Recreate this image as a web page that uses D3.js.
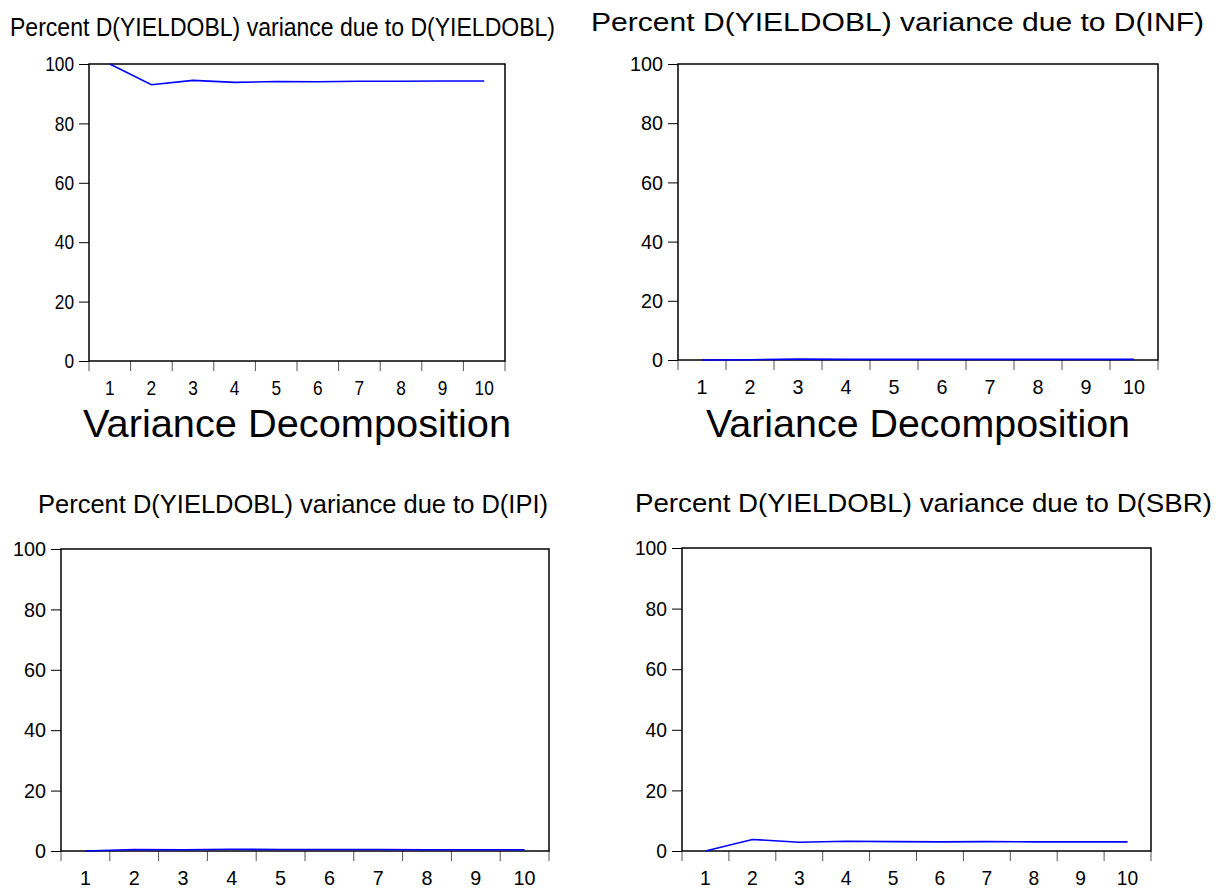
<!DOCTYPE html>
<html>
<head>
<meta charset="utf-8">
<script src="https://cdn.jsdelivr.net/npm/d3@7"></script>
<style>
  html, body { margin: 0; padding: 0; background: #fff; }
  svg { display: block; font-family: "Liberation Sans", Arial, sans-serif; }
</style>
</head>
<body>
<svg id="chart" width="1218" height="889"></svg>
<script>
// ---- data ----
const periods = [1, 2, 3, 4, 5, 6, 7, 8, 9, 10];
const yTicks = [0, 20, 40, 60, 80, 100];
const titles = [
  "Percent D(YIELDOBL) variance due to D(YIELDOBL)",
  "Percent D(YIELDOBL) variance due to D(INF)",
  "Percent D(YIELDOBL) variance due to D(IPI)",
  "Percent D(YIELDOBL) variance due to D(SBR)"
];
const footer = "Variance Decomposition";
const dueToYIELDOBL = [100, 93.0, 94.5, 93.8, 94.1, 94.0, 94.2, 94.2, 94.3, 94.3];
const dueToINF      = [0, 0.1, 0.3, 0.2, 0.2, 0.2, 0.2, 0.2, 0.2, 0.2];
const dueToIPI      = [0, 0.5, 0.4, 0.6, 0.5, 0.5, 0.5, 0.4, 0.4, 0.4];
const dueToSBR      = [0, 3.8, 2.9, 3.2, 3.1, 3.0, 3.1, 3.0, 3.0, 3.0];
const seriesList = [dueToYIELDOBL, dueToINF, dueToIPI, dueToSBR];

// ---- layout (per panel) ----
const panels = [
  { x0: 89,  x1: 505,  y0: 64,  y1: 361, tx: 10,  ty: 36,  tw: 545, dw: 9.6,  fx: true,  fw: 428 },
  { x0: 678, x1: 1158, y0: 64,  y1: 360, tx: 591, ty: 31,  tw: 613, dw: 11,   fx: true,  fw: 424 },
  { x0: 61,  x1: 549,  y0: 549, y1: 851, tx: 38,  ty: 513, tw: 510, dw: 11,   fx: false },
  { x0: 682, x1: 1151, y0: 548, y1: 851, tx: 635, ty: 512, tw: 577, dw: 10.7, fx: false }
];

const svg = d3.select("#chart");

panels.forEach((p, i) => {
  const g = svg.append("g");
  const x = d3.scaleBand().domain(periods).range([p.x0, p.x1]).padding(0);
  const y = d3.scaleLinear().domain([0, 100]).range([p.y1, p.y0]);

  // title
  g.append("text")
    .attr("x", p.tx).attr("y", p.ty)
    .attr("font-size", 25)
    .attr("textLength", p.tw)
    .attr("lengthAdjust", "spacingAndGlyphs")
    .attr("fill", "#000")
    .text(titles[i]);

  // y axis
  const ya = d3.axisLeft(y).tickValues(yTicks).tickSize(10).tickPadding(5);
  const yg = g.append("g").attr("transform", `translate(${p.x0},0)`).call(ya);
  yg.select(".domain").remove();
  yg.selectAll("line").attr("stroke", "#000").attr("stroke-width", 1);
  yg.selectAll("text")
    .attr("font-size", 21)
    .attr("font-family", "Liberation Sans, Arial, sans-serif")
    .attr("fill", "#000")
    .attr("textLength", d => String(d).length * p.dw)
    .attr("lengthAdjust", "spacingAndGlyphs");

  // x axis labels (centered in bands)
  const xa = d3.axisBottom(x).tickSize(0).tickPadding(19);
  const xg = g.append("g").attr("transform", `translate(0,${p.y1})`).call(xa);
  xg.select(".domain").remove();
  xg.selectAll("text")
    .attr("font-size", 21)
    .attr("font-family", "Liberation Sans, Arial, sans-serif")
    .attr("fill", "#000")
    .attr("textLength", d => String(d).length * p.dw)
    .attr("lengthAdjust", "spacingAndGlyphs");

  // x boundary ticks
  const bounds = periods.map(d => x(d)).concat([p.x1]);
  g.append("g").selectAll("line").data(bounds).join("line")
    .attr("x1", d => d).attr("x2", d => d)
    .attr("y1", p.y1).attr("y2", p.y1 + 10)
    .attr("stroke", "#555").attr("stroke-width", 1);

  // frame
  g.append("rect")
    .attr("x", p.x0).attr("y", p.y0)
    .attr("width", p.x1 - p.x0).attr("height", p.y1 - p.y0)
    .attr("fill", "none").attr("stroke", "#000").attr("stroke-width", 1.5);

  // series line
  const line = d3.line()
    .x((d, j) => x(periods[j]) + x.bandwidth() / 2)
    .y(d => y(d));
  g.append("path")
    .datum(seriesList[i])
    .attr("d", line)
    .attr("fill", "none")
    .attr("stroke", "#0000ff")
    .attr("stroke-width", 1.6);

  // footer
  if (p.fx) {
    g.append("text")
      .attr("x", (p.x0 + p.x1) / 2).attr("y", 437)
      .attr("text-anchor", "middle")
      .attr("font-size", 39)
      .attr("textLength", p.fw)
      .attr("lengthAdjust", "spacingAndGlyphs")
      .attr("fill", "#000")
      .text(footer);
  }
});
</script>
</body>
</html>
